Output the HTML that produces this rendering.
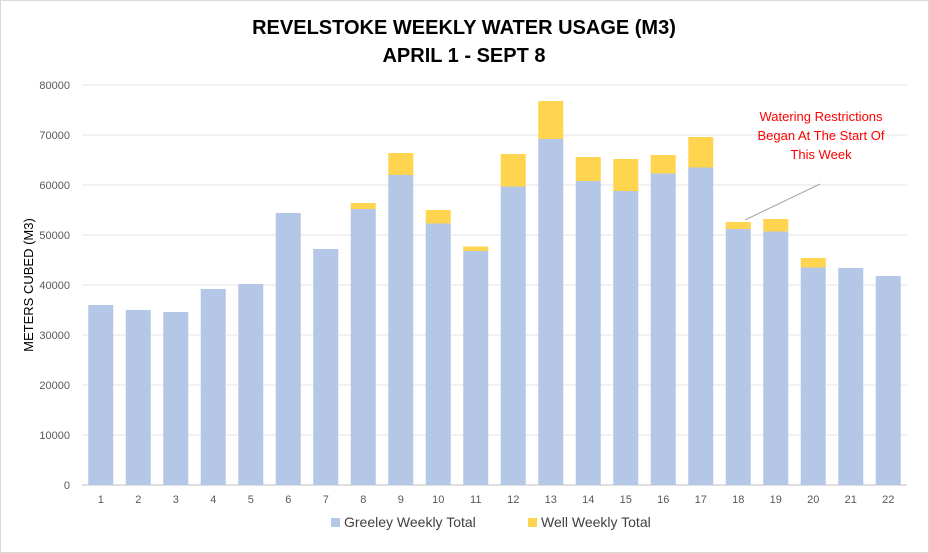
<!DOCTYPE html><html><head><style>body{margin:0;background:#fff}svg{display:block;font-family:"Liberation Sans",sans-serif}</style></head><body>
<svg width="929" height="553" viewBox="0 0 929 553">
<rect x="0.5" y="0.5" width="928" height="552" fill="#fff" stroke="#d9d9d9"/>
<text x="464" y="34" text-anchor="middle" font-size="20" font-weight="bold" fill="#000">REVELSTOKE WEEKLY WATER USAGE (M3)</text>
<text x="464" y="62" text-anchor="middle" font-size="20" font-weight="bold" fill="#000">APRIL 1 - SEPT 8</text>
<g id="g"></g>
<text transform="translate(33,285) rotate(-90)" text-anchor="middle" font-size="13" fill="#000">METERS CUBED (M3)</text>
<rect x="331" y="518" width="9" height="9" fill="#b4c7e7"/><text x="344" y="527" font-size="14" fill="#404040">Greeley Weekly Total</text>
<rect x="528" y="518" width="9" height="9" fill="#ffd54f"/><text x="541" y="527" font-size="14" fill="#404040">Well Weekly Total</text>
<text x="821" y="121" text-anchor="middle" font-size="13" fill="#ff0000">Watering Restrictions</text>
<text x="821" y="140" text-anchor="middle" font-size="13" fill="#ff0000">Began At The Start Of</text>
<text x="821" y="159" text-anchor="middle" font-size="13" fill="#ff0000">This Week</text>
<line x1="820" y1="184" x2="745" y2="220" stroke="#a6a6a6"/>
</svg>
<script>
var g=document.getElementById('g'),s='';
for(var i=0;i<=8;i++){var y=485-i*50;s+='<line x1="82" x2="907" y1="'+y+'" y2="'+y+'" stroke="'+(i?'#e6e6e6':'#bfbfbf')+'"/>';s+='<text x="70" y="'+(y+4)+'" text-anchor="end" font-size="11" fill="#595959">'+(i*10000)+'</text>';}
var gr=[36000,35000,34600,39200,40200,54400,47200,55200,62000,52300,46800,59700,69200,60800,58800,62300,63500,51200,50700,43500,43400,41800];
var tot=[0,0,0,0,0,0,0,56400,66400,55000,47700,66200,76800,65600,65200,66000,69600,52600,53200,45400,0,0];
for(var k=0;k<22;k++){var c=82+37.5*(k+0.5),x=c-12.5;var yg=485-gr[k]/200;
if(tot[k]){var yt=485-tot[k]/200;s+='<rect x="'+x+'" y="'+yt+'" width="25" height="'+(yg-yt)+'" fill="#ffd54f"/>';}
s+='<rect x="'+x+'" y="'+yg+'" width="25" height="'+(485-yg)+'" fill="#b4c7e7"/>';
s+='<text x="'+c+'" y="503" text-anchor="middle" font-size="11" fill="#595959">'+(k+1)+'</text>';}
g.innerHTML=s;
</script>
</body></html>
